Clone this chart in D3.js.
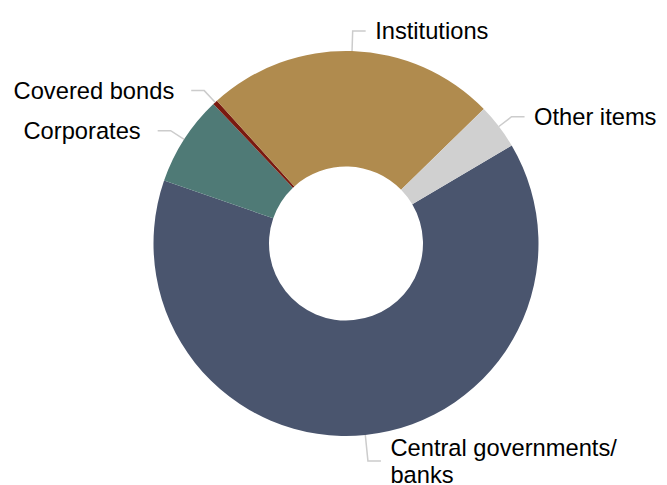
<!DOCTYPE html>
<html>
<head>
<meta charset="utf-8">
<script src="https://cdn.jsdelivr.net/npm/d3@7"></script>
<style>
  body { margin: 0; background: #fff; }
  svg { display: block; font-family: "Liberation Sans", Arial, sans-serif; }
</style>
</head>
<body>
<svg id="chart" width="667" height="485"></svg>
<script>
// Data (shares in %, clockwise order)
const categories = ['Central governments/banks', 'Corporates', 'Covered bonds', 'Institutions', 'Other items'];
const values = [63.8, 7.6, 0.4, 24.4, 3.8];
const colors = ['#4a556e', '#4f7a76', '#7a1a10', '#b08b4e', '#d0d0d0'];

var width = 667, height = 485;
var cx = 346, cy = 243.5;
var outerR = 192.5, innerR = 77;

// how far the leader goes out before turning horizontal
var elbowPad = { 'Institutions': 20, 'Central governments/banks': 26 };

const slices = categories.map(function(c, i) {
  return { name: c, value: values[i], color: colors[i] };
});

var pie = d3.pie()
  .sort(null)
  .value(function(d) { return d.value })
  .startAngle(59.4 * Math.PI / 180)
  .endAngle(59.4 * Math.PI / 180 + 2 * Math.PI);

var arc = d3.arc().innerRadius(innerR).outerRadius(outerR);

var svg = d3.select('#chart');
var g = svg.append('g').attr('transform', 'translate(' + cx + ',' + cy + ')');

var arcs = pie(slices);

g.selectAll('path.slice')
  .data(arcs)
  .join('path')
  .attr('class', 'slice')
  .attr('d', arc)
  .attr('fill', function(d) { return d.data.color });

// labels with connectors
arcs.forEach(function(d) {
  var a = (d.startAngle + d.endAngle) / 2;
  var sx = Math.sin(a), sy = -Math.cos(a);
  var pad = elbowPad[d.data.name] || 16;
  var p0 = [outerR * sx, outerR * sy];
  var p1 = [(outerR + pad) * sx, (outerR + pad) * sy];
  var right = sx >= 0;
  var p2 = [p1[0] + (right ? 13 : -13), p1[1]];

  g.append('path')
    .attr('d', d3.line()([p0, p1, p2]))
    .attr('fill', 'none')
    .attr('stroke', '#cccccc')
    .attr('stroke-width', 1.5);

  var lines = d.data.name.indexOf('/') > 0
    ? [d.data.name.split('/')[0] + '/', d.data.name.split('/')[1]]
    : [d.data.name];
  var lh = 26.7;
  var tx = p2[0] + (right ? 9.5 : -17);
  var t = g.append('text')
    .attr('x', tx)
    .attr('y', p1[1] - (lines.length - 1) * lh / 2)
    .attr('text-anchor', right ? 'start' : 'end')
    .style('font-size', '23.7px')
    .style('fill', '#000');
  lines.forEach(function(l, i) {
    t.append('tspan')
      .attr('x', tx)
      .attr('dy', i === 0 ? '0.35em' : lh)
      .text(l);
  });
});
</script>
</body>
</html>
